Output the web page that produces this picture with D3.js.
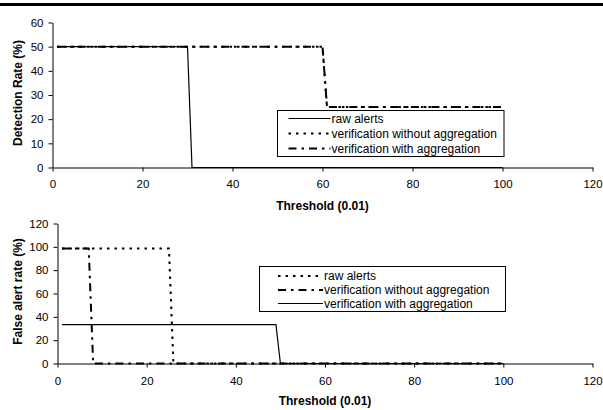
<!DOCTYPE html>
<html>
<head>
<meta charset="utf-8">
<script src="https://cdn.jsdelivr.net/npm/d3@7"></script>
<style>
  body { margin: 0; background: #fff; }
  svg { display: block; font-family: Arial, "Liberation Sans", sans-serif; }
  .axis text { font-size: 11.5px; fill: #000; }
  .axis path, .axis line { stroke: #000; }
  .axis-title { font-size: 12px; font-weight: bold; }
  .legend-item text { font-size: 12px; }
</style>
</head>
<body>
<div id="chart"></div>
<script>
// threshold break points and rates (%)
const detRawX = [1, 30, 31, 100];
const detRawY = [50, 50, 0, 0];
const detNoAggX = [1, 60, 61, 100];
const detNoAggY = [50, 50, 25, 25];
const detAggX = [1, 60, 61, 100];
const detAggY = [50, 50, 25, 25];

const falseRawX = [1, 25, 26, 100];
const falseRawY = [98.5, 98.5, 0, 0];
const falseNoAggX = [1, 7, 8, 100];
const falseNoAggY = [98.5, 98.5, 0, 0];
const falseAggX = [1, 49, 50, 100];
const falseAggY = [33.3, 33.3, 0, 0];

const xTicks = [0, 20, 40, 60, 80, 100, 120];
const detYTicks = [0, 10, 20, 30, 40, 50, 60];
const falseYTicks = [0, 20, 40, 60, 80, 100, 120];

const legendNames = ["raw alerts", "verification without aggregation", "verification with aggregation"];

const LINE_STYLES = {
  solid: { dash: null, width: 1.2 },
  dotted: { dash: "2.5,5", width: 2 },
  dashdot: { dash: "8,5,2.5,5", width: 2 },
};

const zip = (xs, ys) => xs.map((x, i) => ({ x: x, y: ys[i] }));

class StepChart {
  constructor(_config, series) {
    this.config = {
      svg: _config.svg,
      xRange: _config.xRange,
      yRange: _config.yRange,
      yDomain: _config.yDomain,
      yTicks: _config.yTicks,
      yTitle: _config.yTitle,
      xTitleY: _config.xTitleY,
      xLabelPad: _config.xLabelPad,
      legend: _config.legend,
    };
    this.series = series;
    this.initVis();
  }

  initVis() {
    let vis = this;
    const svg = vis.config.svg;

    vis.x = d3.scaleLinear().domain([0, 120]).range(vis.config.xRange);
    vis.y = d3.scaleLinear().domain(vis.config.yDomain).range(vis.config.yRange);

    vis.g = svg.append("g");

    const xAxis = d3.axisBottom(vis.x)
      .tickValues(xTicks)
      .tickSize(4)
      .tickSizeOuter(0)
      .tickPadding(vis.config.xLabelPad);
    const yAxis = d3.axisLeft(vis.y)
      .tickValues(vis.config.yTicks)
      .tickSize(4)
      .tickSizeOuter(0)
      .tickPadding(5);

    vis.g.append("g")
      .attr("class", "axis")
      .attr("transform", `translate(0,${vis.config.yRange[0]})`)
      .call(xAxis)
      .call((g) => g.selectAll("text").attr("font-family", null).attr("font-size", null));

    vis.g.append("g")
      .attr("class", "axis")
      .attr("transform", `translate(${vis.config.xRange[0]},0)`)
      .call(yAxis)
      .call((g) => g.selectAll("text").attr("font-family", null).attr("font-size", null));

    // axis titles
    vis.g.append("text")
      .attr("class", "axis-title")
      .attr("x", (vis.config.xRange[0] + vis.config.xRange[1]) / 2)
      .attr("y", vis.config.xTitleY)
      .attr("text-anchor", "middle")
      .text("Threshold (0.01)");

    vis.g.append("text")
      .attr("class", "axis-title")
      .attr("transform", `translate(21.5,${(vis.config.yRange[0] + vis.config.yRange[1]) / 2 - 2}) rotate(-90)`)
      .attr("text-anchor", "middle")
      .text(vis.config.yTitle);

    vis.renderVis();
  }

  renderVis() {
    let vis = this;
    const line = d3.line().x((d) => vis.x(d.x)).y((d) => vis.y(d.y));

    vis.g.selectAll(".series")
      .data(vis.series)
      .join("path")
      .attr("class", "series")
      .attr("d", (d) => line(d.values))
      .attr("fill", "none")
      .attr("stroke", "#000")
      .attr("stroke-width", (d) => LINE_STYLES[d.style].width)
      .attr("stroke-dasharray", (d) => LINE_STYLES[d.style].dash);

    const lg = vis.config.legend;
    const legend = vis.g.append("g").attr("transform", `translate(${lg.x},${lg.y})`);
    legend.append("rect")
      .attr("width", lg.w)
      .attr("height", lg.h)
      .attr("fill", "#fff")
      .attr("stroke", "#000")
      .attr("stroke-width", 1);

    const items = legend.selectAll(".legend-item")
      .data(vis.series)
      .join("g")
      .attr("class", "legend-item")
      .attr("transform", (d, i) => `translate(0,${lg.rows[i]})`);

    items.append("line")
      .attr("x1", lg.lineX[0])
      .attr("x2", lg.lineX[1])
      .attr("stroke", "#000")
      .attr("stroke-width", (d) => LINE_STYLES[d.style].width)
      .attr("stroke-dasharray", (d) => LINE_STYLES[d.style].dash);

    items.append("text")
      .attr("x", lg.lineX[1] + 1)
      .attr("y", 4)
      .text((d) => d.name);
  }
}

const svg = d3.select("#chart")
  .append("svg")
  .attr("width", 603)
  .attr("height", 410);

svg.append("rect")
  .attr("x", 0)
  .attr("y", 3)
  .attr("width", 603)
  .attr("height", 3)
  .attr("fill", "#000");

new StepChart({
  svg: svg,
  xRange: [52.5, 592.5],
  yRange: [167.5, 22.5],
  yDomain: [0, 60],
  yTicks: detYTicks,
  yTitle: "Detection Rate (%)",
  xTitleY: 210,
  xLabelPad: 8,
  legend: { x: 277.5, y: 110.5, w: 226.5, h: 46, rows: [8, 23, 38], lineX: [11, 53] },
}, [
  { name: legendNames[0], style: "solid", values: zip(detRawX, detRawY) },
  { name: legendNames[1], style: "dotted", values: zip(detNoAggX, detNoAggY) },
  { name: legendNames[2], style: "dashdot", values: zip(detAggX, detAggY) },
]);

new StepChart({
  svg: svg,
  xRange: [57.5, 592.5],
  yRange: [363.5, 223.5],
  yDomain: [0, 120],
  yTicks: falseYTicks,
  yTitle: "False alert rate (%)",
  xTitleY: 404.5,
  xLabelPad: 9,
  legend: { x: 259.5, y: 266.5, w: 246, h: 45, rows: [9.5, 23.5, 37], lineX: [18.5, 63.5] },
}, [
  { name: legendNames[0], style: "dotted", values: zip(falseRawX, falseRawY) },
  { name: legendNames[1], style: "dashdot", values: zip(falseNoAggX, falseNoAggY) },
  { name: legendNames[2], style: "solid", values: zip(falseAggX, falseAggY) },
]);
</script>
</body>
</html>
